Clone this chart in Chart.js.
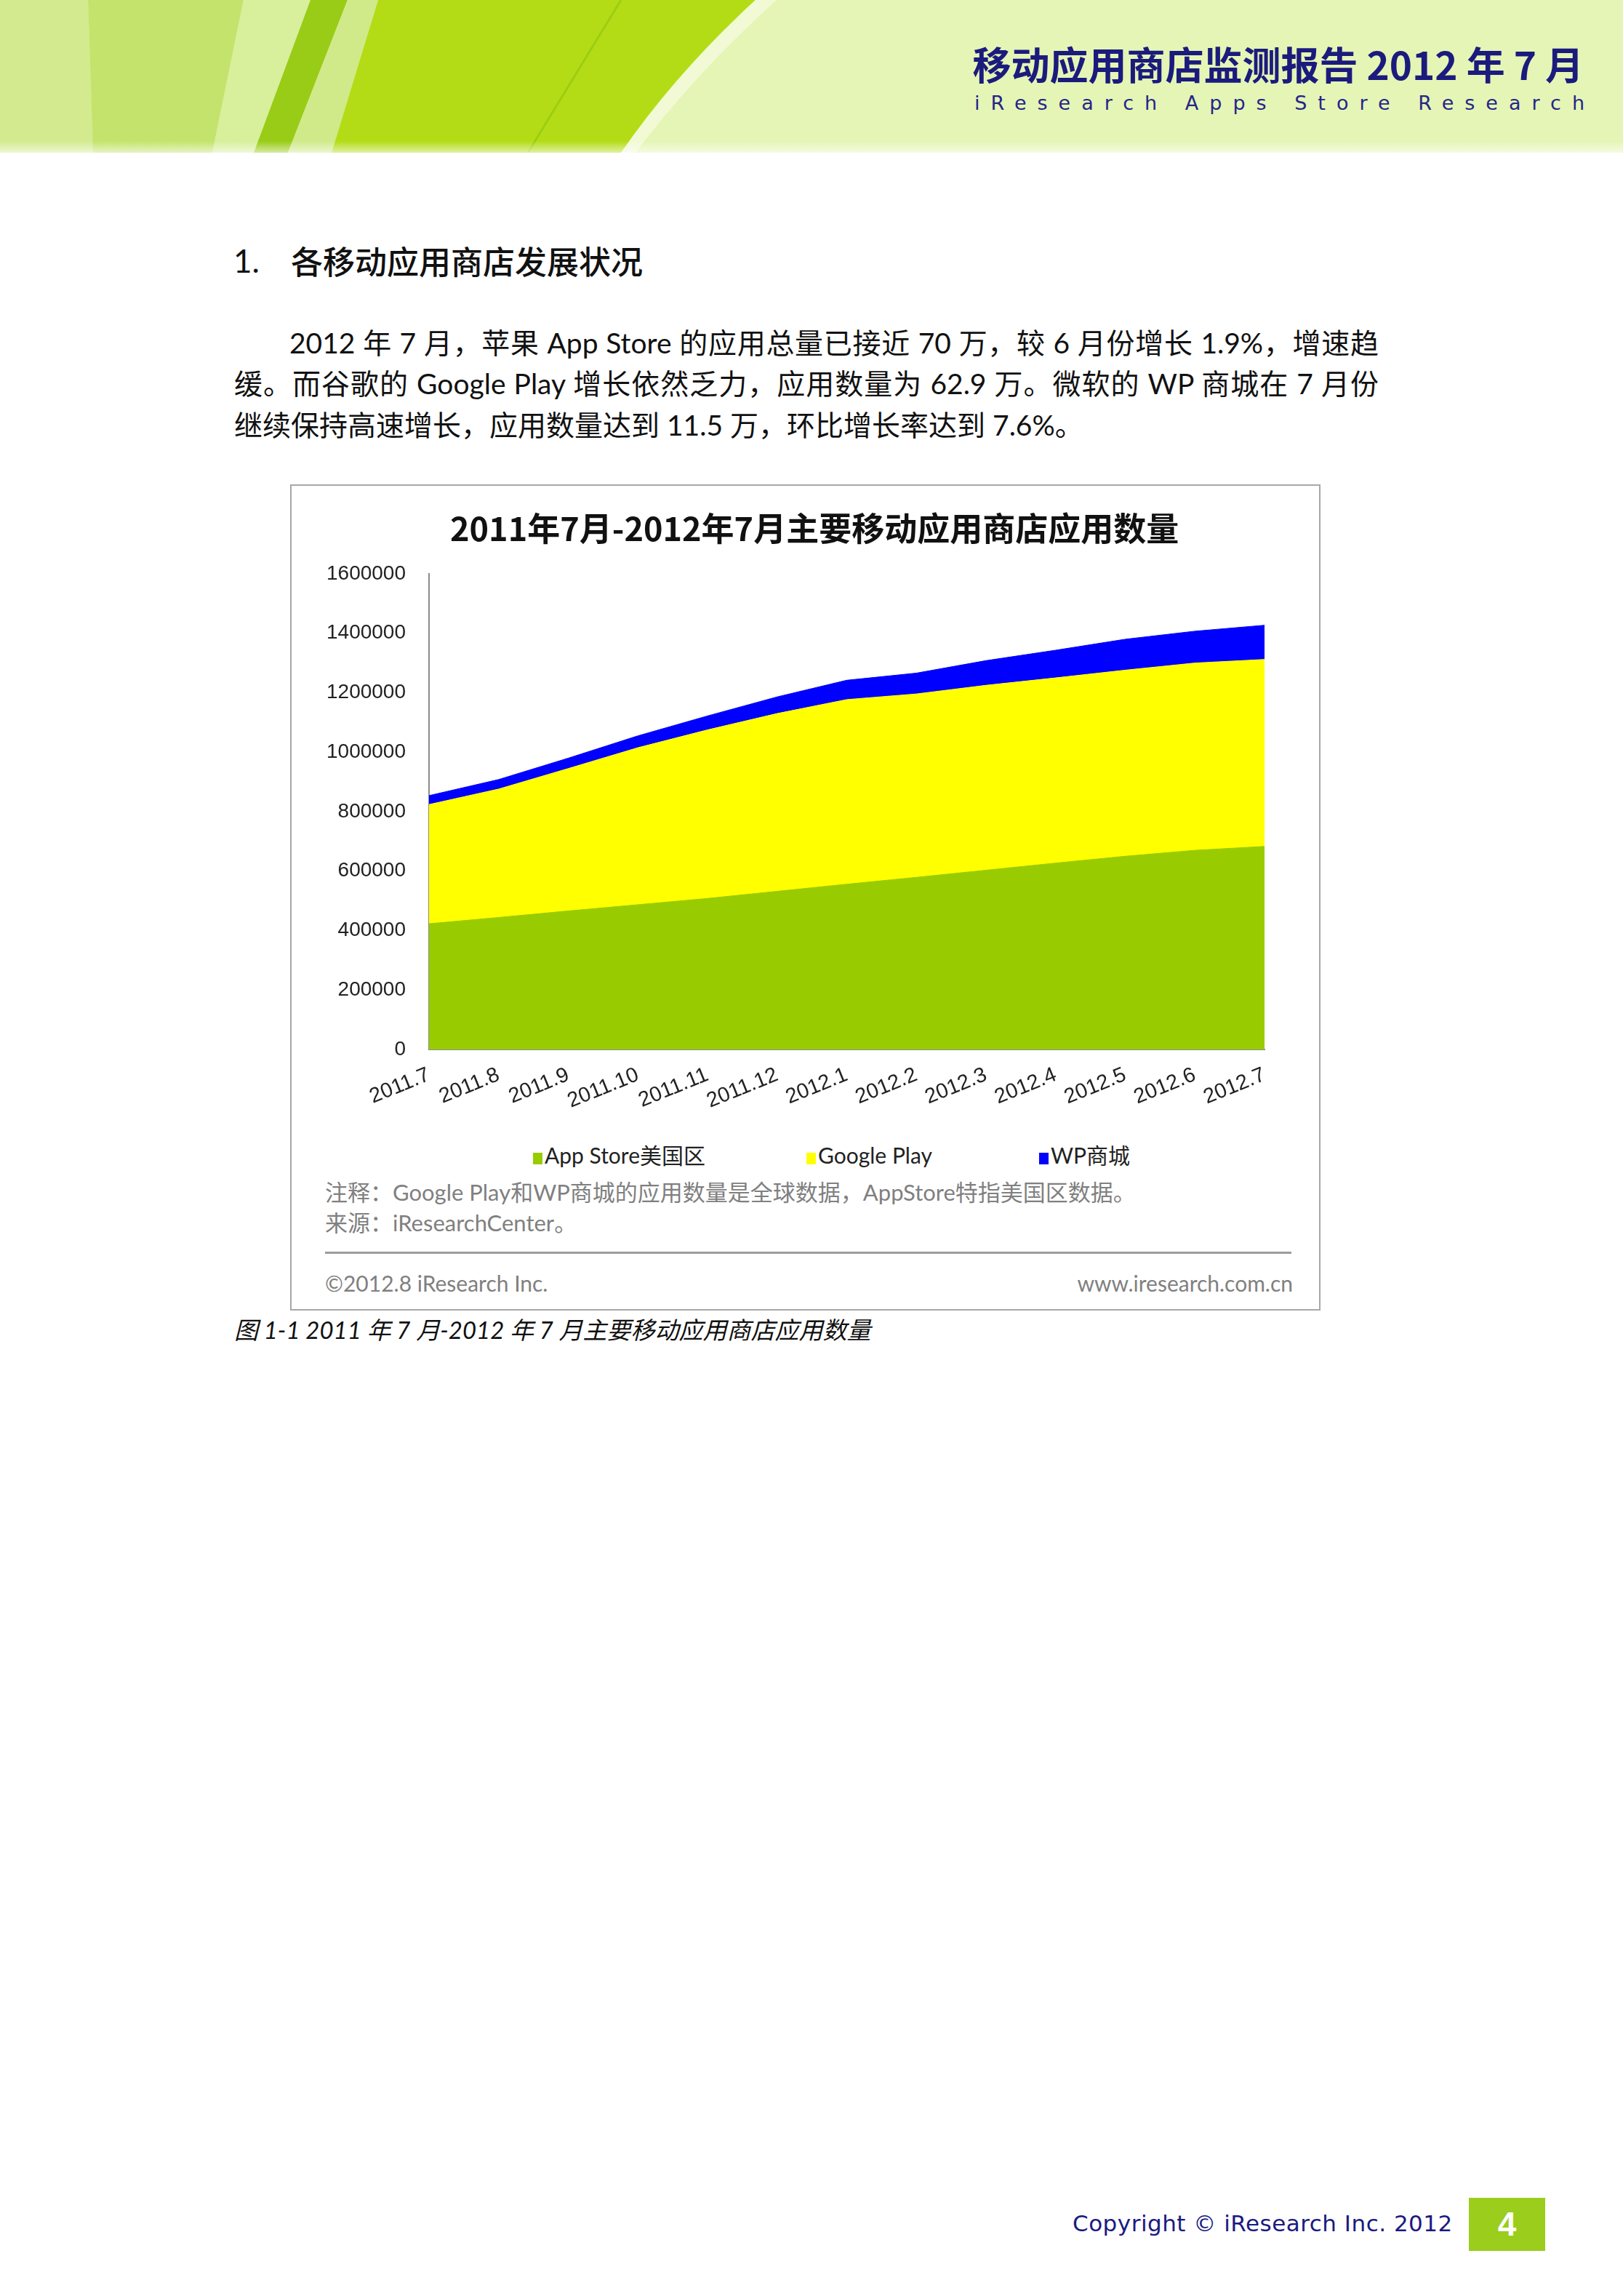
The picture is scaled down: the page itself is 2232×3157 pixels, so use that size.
<!DOCTYPE html>
<html>
<head>
<meta charset="utf-8">
<script src="https://cdn.jsdelivr.net/npm/chart.js@4.4.0/dist/chart.umd.min.js"></script>
<style>
html,body{margin:0;padding:0;background:#fff;}
body{width:2232px;height:3157px;position:relative;overflow:hidden;font-family:"Lato","Noto Sans CJK SC",sans-serif;}
.abs{position:absolute;white-space:nowrap;}
#banner{position:absolute;left:0;top:0;}
#htitle{right:54px;top:52px;font-family:"Noto Sans CJK SC";font-size:53px;font-weight:700;color:#1b1b7d;line-height:70px;letter-spacing:0px;}
#hsub{right:38px;top:124px;font-family:"DejaVu Sans";font-size:27px;color:#25258a;line-height:36px;letter-spacing:15px;}
#h1num{left:321px;top:328px;font-size:44px;line-height:60px;color:#111;}
#h1txt{left:400px;top:328px;font-family:"Noto Sans CJK SC";font-size:44px;line-height:60px;color:#111;font-weight:500;}
.para{position:absolute;font-size:39px;line-height:56px;color:#111;white-space:normal;}
.just{text-align:justify;text-align-last:justify;}
#box{position:absolute;left:399px;top:666px;width:1417px;height:1136px;box-sizing:border-box;border:2px solid #a8a8a8;}
#c{position:absolute;left:400px;top:668px;}
#ctitle{position:absolute;left:619px;top:695px;width:1000px;text-align:center;font-family:"Noto Sans CJK SC";font-size:45px;font-weight:700;line-height:60px;color:#111;white-space:nowrap;}
.legend{position:absolute;font-size:30px;line-height:40px;color:#222;white-space:nowrap;}
.legend i{display:inline-block;width:13px;height:16px;margin-right:3px;vertical-align:-1px;}
.note{position:absolute;font-size:31px;line-height:40px;color:#808080;white-space:nowrap;}
#rule{position:absolute;left:447px;top:1721px;width:1329px;height:3px;background:#9c9c9c;}
#caption{left:322px;top:1806px;font-size:33px;line-height:44px;font-style:italic;color:#111;}
#copy{left:1475px;top:3037px;font-family:"DejaVu Sans";font-size:31px;line-height:40px;color:#1a1a80;letter-spacing:0.5px;}
#pg{position:absolute;left:2020px;top:3022px;width:105px;height:73px;background:#9acd1c;color:#fff;font-family:"Liberation Sans";font-weight:700;font-size:46px;line-height:73px;text-align:center;}
</style>
</head>
<body>
<svg id="banner" width="2232" height="210" viewBox="0 0 2232 210">
<defs><linearGradient id="fade" x1="0" y1="0" x2="0" y2="1"><stop offset="0" stop-color="#fff" stop-opacity="0"/><stop offset="1" stop-color="#fff" stop-opacity="0.6"/></linearGradient></defs>
<rect width="2232" height="210" fill="#e5f5b6"/>
<polygon points="0,0 121,0 128,210 0,210" fill="#d3eb8e"/>
<polygon points="121,0 335,0 292,210 128,210" fill="#c4e36c"/>
<polygon points="335,0 427,0 349,210 292,210" fill="#d8ef9c"/>
<polygon points="427,0 478,0 396,210 349,210" fill="#99cc16"/>
<polygon points="478,0 520,0 456,210 396,210" fill="#d0ea8a"/>
<path d="M520,0 L1039,0 Q930,100 854,210 L456,210 Z" fill="#b4dc16"/>
<line x1="854" y1="0" x2="726" y2="210" stroke="#9ccd12" stroke-width="3"/>
<path d="M1039,0 L1068,0 Q957,100 874,210 L854,210 Q930,100 1039,0 Z" fill="#f1fad4"/>
<rect y="194" width="2232" height="16" fill="url(#fade)"/>
</svg>
<div id="htitle" class="abs">移动应用商店监测报告 2012 年 7 月</div>
<div id="hsub" class="abs">iResearch Apps Store Research</div>

<div id="h1num" class="abs">1.</div>
<div id="h1txt" class="abs">各移动应用商店发展状况</div>

<div class="para just" style="left:398px;top:443px;width:1498px;">2012 年 7 月，苹果 App Store 的应用总量已接近 70 万，较 6 月份增长 1.9%，增速趋</div>
<div class="para just" style="left:322px;top:499px;width:1574px;">缓。而谷歌的 Google Play 增长依然乏力，应用数量为 62.9 万。微软的 WP 商城在 7 月份</div>
<div class="para" style="left:322px;top:556px;white-space:nowrap;">继续保持高速增长，应用数量达到 11.5 万，环比增长率达到 7.6%。</div>

<div id="box"></div>
<canvas id="c" width="1414" height="885" style="width:1414px;height:885px;"></canvas>
<div id="ctitle"></div>
<div id="legendWrap"></div>
<div class="note" style="left:447px;top:1619px;">注释：Google Play和WP商城的应用数量是全球数据，AppStore特指美国区数据。</div>
<div class="note" style="left:447px;top:1661px;">来源：iResearchCenter。</div>
<div id="rule"></div>
<div class="note" style="left:447px;top:1744px;font-size:30px;">©2012.8 iResearch Inc.</div>
<div class="note" style="right:454px;top:1744px;font-size:30px;">www.iresearch.com.cn</div>

<div id="caption" class="abs">图 1-1 2011 年 7 月-2012 年 7 月主要移动应用商店应用数量</div>

<div id="copy" class="abs">Copyright © iResearch Inc. 2012</div>
<div id="pg">4</div>

<script>
const chartTitle = '2011年7月-2012年7月主要移动应用商店应用数量';
const categories = ['2011.7','2011.8','2011.9','2011.10','2011.11','2011.12','2012.1','2012.2','2012.3','2012.4','2012.5','2012.6','2012.7'];
const appStoreUS = [423000,444000,466000,487000,508000,532000,556000,579000,603000,627000,650000,670000,683000];
const googlePlay = [401000,432000,479000,528000,567000,598000,621000,617000,622000,623000,626000,630000,629000];
const wpStore    = [30000,32000,35000,40000,47000,56000,65000,70000,83000,93000,104000,107000,115000];
const seriesNames = ['App Store美国区','Google Play','WP商城'];
const seriesColors = ['#99cc00','#ffff00','#0000ff'];
const yMin = 0, yMax = 1600000, yStep = 200000;

// layout only
const legendLeft = [733, 1109, 1429];
const legendTop = 1568;

document.getElementById('ctitle').textContent = chartTitle;

const chart = new Chart(document.getElementById('c'), {
  type: 'line',
  data: {
    labels: categories,
    datasets: [
      {label: seriesNames[0], data: appStoreUS, backgroundColor: seriesColors[0], borderColor: seriesColors[0], fill: 'origin'},
      {label: seriesNames[1], data: googlePlay, backgroundColor: seriesColors[1], borderColor: seriesColors[1], fill: '-1'},
      {label: seriesNames[2], data: wpStore, backgroundColor: seriesColors[2], borderColor: seriesColors[2], fill: '-1'}
    ]
  },
  options: {
    responsive: false,
    animation: false,
    devicePixelRatio: 1,
    elements: {line: {tension: 0, borderWidth: 1}, point: {radius: 0, hoverRadius: 0}},
    layout: {padding: {left: 0, right: 75, top: 121, bottom: 0}},
    plugins: {
      legend: {display: false},
      tooltip: {enabled: false},
      title: {display: false}
    },
    scales: {
      x: {
        grid: {display: false, drawTicks: false},
        border: {display: true, color: '#8c8c8c', width: 2},
        ticks: {autoSkip: false, maxRotation: 22, minRotation: 22, padding: 18, color: '#222',
          font: {family: '"Liberation Sans"', size: 29}},
        afterFit(s) { s.height = 110; }
      },
      y: {
        stacked: true, min: yMin, max: yMax,
        grid: {display: false, drawTicks: false},
        border: {display: true, color: '#8c8c8c', width: 2},
        ticks: {stepSize: yStep, padding: 32, color: '#222',
          font: {family: '"Liberation Sans"', size: 28},
          callback: v => String(v)},
        afterFit(s) { s.width = 190; }
      }
    }
  }
});

const wrap = document.getElementById('legendWrap');
chart.data.datasets.forEach((ds, i) => {
  const d = document.createElement('div');
  d.className = 'legend';
  d.style.left = legendLeft[i] + 'px';
  d.style.top = legendTop + 'px';
  const sq = document.createElement('i');
  sq.style.background = ds.backgroundColor;
  d.appendChild(sq);
  d.appendChild(document.createTextNode(ds.label));
  wrap.appendChild(d);
});
</script>
</body>
</html>
